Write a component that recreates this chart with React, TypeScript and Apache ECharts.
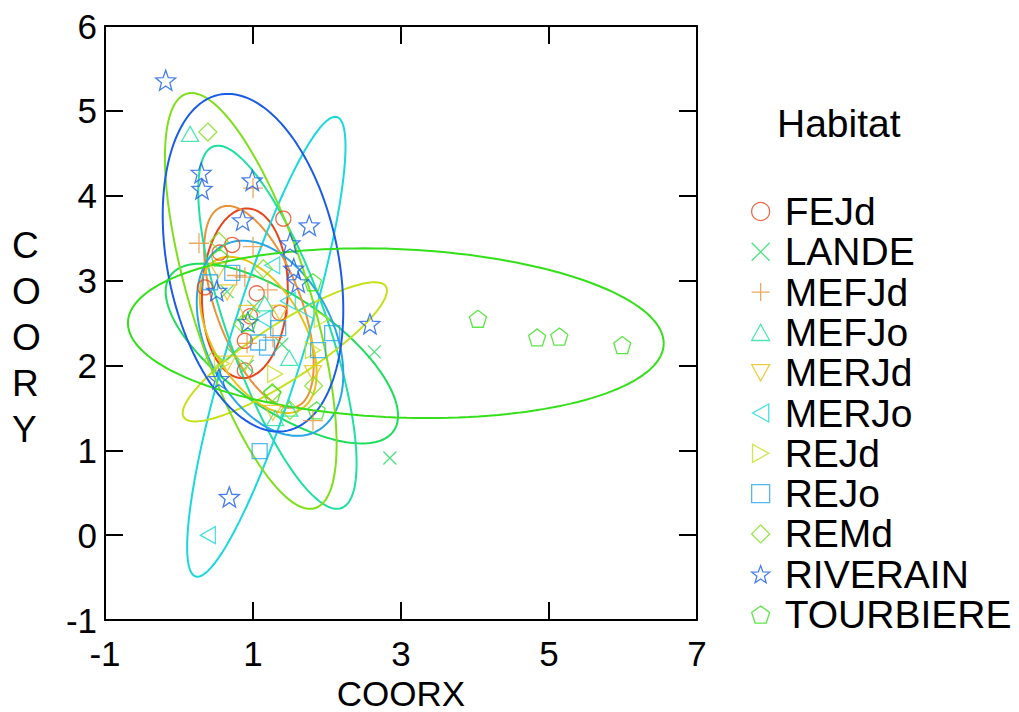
import React, { useEffect, useRef } from "react";
import * as echarts from "echarts";

const habitats = ["FEJd", "LANDE", "MEFJd", "MEFJo", "MERJd", "MERJo", "REJd", "REJo", "REMd", "RIVERAIN", "TOURBIERE"];
const colors = ["#E8431A", "#1EDC5C", "#E8923A", "#1EE0A0", "#E8C21A", "#1AD8DC", "#C6E01A", "#2AA6E8", "#7EE01A", "#1A5CE8", "#34E01A"];

const FEJd = [[1.41, 3.73], [0.72, 3.42], [0.55, 3.33], [0.35, 2.92], [1.05, 2.85], [1.36, 2.62], [0.96, 2.58], [0.89, 2.29], [0.89, 1.94]];
const LANDE = [[2.85, 0.91], [2.64, 2.16], [0.65, 2.87], [1.01, 2.69], [1.39, 2.25], [0.73, 2.14], [0.92, 1.99]];
const MEFJd = [[1.0, 4.09], [0.27, 3.44], [1.0, 3.4], [0.78, 3.06], [0.89, 3.04], [1.2, 2.89], [0.92, 2.26], [1.27, 2.33], [1.81, 1.35]];
const MEFJo = [[0.15, 4.73], [1.16, 2.73], [1.49, 2.09], [1.49, 1.49], [1.3, 1.38]];
const MERJd = [[0.53, 3.12], [0.65, 2.86], [0.92, 2.62], [1.36, 2.62], [0.89, 2.02], [1.81, 1.91], [1.27, 1.44], [0.65, 2.02]];
const MERJo = [[0.39, 0.0], [1.26, 3.18], [1.47, 2.76], [1.14, 2.55], [1.72, 2.65]];
const REJd = [[1.93, 2.55], [1.81, 2.18], [0.58, 2.02], [1.3, 1.9]];
const REJo = [[1.09, 0.99], [0.72, 3.09], [0.42, 2.98], [1.34, 2.44], [1.07, 2.27], [1.19, 2.21], [2.07, 2.38], [1.88, 2.18]];
const REMd = [[0.39, 4.75], [0.54, 3.46], [1.14, 3.14], [0.86, 2.49], [1.26, 1.68], [1.82, 1.76], [0.46, 2.06], [1.5, 1.47]];
const RIVERAIN = [[-0.18, 5.36], [0.3, 4.27], [0.31, 4.08], [0.99, 4.18], [0.86, 3.71], [1.76, 3.65], [1.5, 3.44], [1.55, 3.14], [1.61, 2.98], [0.51, 2.88], [0.93, 2.51], [2.58, 2.49], [0.54, 1.84], [0.68, 0.45]];
const TOURBIERE = [[4.04, 2.55], [4.84, 2.33], [5.14, 2.34], [5.99, 2.24], [0.55, 3.27], [1.81, 2.98], [0.93, 2.51], [1.26, 1.67], [1.86, 1.47]];
const groupPoints = [FEJd, LANDE, MEFJd, MEFJo, MERJd, MERJo, REJd, REJo, REMd, RIVERAIN, TOURBIERE];

// ellipse parameters: centre, half-extent in x and y, correlation
const ellipseCx = [0.89, 1.39, 1.08, 1.33, 1.07, 1.18, 1.43, 1.23, 0.97, 1.0, 2.93];
const ellipseCy = [2.85, 2.14, 2.69, 2.45, 2.36, 2.22, 2.16, 2.32, 2.76, 3.21, 2.38];
const ellipseSx = [0.58, 1.57, 0.74, 1.07, 0.79, 1.07, 1.38, 0.99, 1.16, 1.22, 3.62];
const ellipseSy = [1.0, 1.06, 1.19, 2.14, 0.92, 2.71, 0.82, 1.15, 2.45, 1.99, 1.0];
const ellipseR = [0.05, -0.69, -0.57, -0.75, -0.49, 0.87, 0.88, -0.37, -0.69, -0.28, -0.12];

function starPath(): string {
  const pts: string[] = [];
  for (let i = 0; i < 10; i++) {
    const rad = i % 2 === 0 ? 10 : 4.2;
    const a = -Math.PI / 2 + (i * Math.PI) / 5;
    pts.push(`${(10 + rad * Math.cos(a)).toFixed(2)},${(10 + rad * Math.sin(a)).toFixed(2)}`);
  }
  return "path://M" + pts.join("L") + "Z";
}
function pentagonPath(): string {
  const pts: string[] = [];
  for (let i = 0; i < 5; i++) {
    const a = -Math.PI / 2 + (i * 2 * Math.PI) / 5;
    pts.push(`${(10 + 10 * Math.cos(a)).toFixed(2)},${(10 + 10 * Math.sin(a)).toFixed(2)}`);
  }
  return "path://M" + pts.join("L") + "Z";
}

const symbols = [
  "circle",
  "path://M0,0L10,10M10,0L0,10",
  "path://M5,0L5,10M0,5L10,5",
  "path://M5,0L10,9L0,9Z",
  "path://M0,0L10,0L5,9Z",
  "path://M9,0L9,10L0,5Z",
  "path://M0,0L9,5L0,10Z",
  "rect",
  "diamond",
  starPath(),
  pentagonPath(),
];
const sizes: any[] = [15, 13, 20, [17, 15], [17, 15], [15, 17], [15, 17], 15, 18, 20, 17];

function ellipsePoints(i: number): number[][] {
  const out: number[][] = [];
  const n = 160;
  const r = ellipseR[i];
  const q = Math.sqrt(1 - r * r);
  for (let k = 0; k <= n; k++) {
    const t = (k / n) * 2 * Math.PI;
    out.push([
      ellipseCx[i] + ellipseSx[i] * Math.cos(t),
      ellipseCy[i] + ellipseSy[i] * (r * Math.cos(t) + q * Math.sin(t)),
    ]);
  }
  return out;
}

const FONT = "Liberation Sans, Arial, sans-serif";

export default function App() {
  const ref = useRef<HTMLDivElement>(null);
  useEffect(() => {
    if (!ref.current) return;
    const chart = echarts.init(ref.current, undefined, { renderer: "svg" });
    const axisLine = { show: true, onZero: false, lineStyle: { color: "#000", width: 2 } };
    const axisTick = { show: true, inside: true, length: 18, lineStyle: { color: "#000", width: 2 } };
    const series: any[] = [];
    habitats.forEach((h, i) => {
      series.push({
        name: h + " ellipse",
        type: "line",
        data: ellipsePoints(i),
        showSymbol: false,
        silent: true,
        lineStyle: { color: colors[i], width: 2 },
        z: 2,
      });
    });
    habitats.forEach((h, i) => {
      series.push({
        name: h,
        type: "scatter",
        data: groupPoints[i],
        symbol: symbols[i],
        symbolSize: sizes[i],
        itemStyle: { color: "transparent", borderColor: colors[i], borderWidth: 1.3 },
        z: 3,
      });
    });
    chart.setOption({
      animation: false,
      backgroundColor: "#fff",
      textStyle: { fontFamily: FONT },
      title: {
        text: "Habitat",
        left: 772,
        top: 99,
        textStyle: { fontSize: 39, fontWeight: "normal", color: "#000", fontFamily: FONT },
      },
      legend: {
        orient: "vertical",
        left: 746,
        top: 187,
        itemWidth: 18,
        itemHeight: 18,
        itemGap: 1.3,
        selectedMode: false,
        textStyle: { fontSize: 39, color: "#000", fontFamily: FONT, padding: [0, 0, 0, 10] },
        data: habitats.map((h, i) => ({
          name: h,
          icon: symbols[i],
          itemStyle: { color: "transparent", borderColor: colors[i], borderWidth: 1.3 },
        })),
      },
      grid: { left: 105, top: 26, width: 592, height: 594, outerBoundsMode: "none", containLabel: false },
      xAxis: [
        {
          type: "value",
          min: -1,
          max: 7,
          interval: 2,
          position: "bottom",
          axisLine,
          axisTick,
          splitLine: { show: false },
          axisLabel: { fontSize: 35, color: "#000", margin: 16, fontFamily: FONT },
          name: "COORX",
          nameLocation: "middle",
          nameGap: 47,
          nameTextStyle: { fontSize: 35, color: "#000", fontFamily: FONT },
        },
        {
          type: "value",
          min: -1,
          max: 7,
          interval: 2,
          position: "top",
          axisLine,
          axisTick,
          splitLine: { show: false },
          axisLabel: { show: false },
        },
      ],
      yAxis: [
        {
          type: "value",
          min: -1,
          max: 6,
          interval: 1,
          position: "left",
          axisLine,
          axisTick,
          splitLine: { show: false },
          axisLabel: { fontSize: 35, color: "#000", margin: 8, fontFamily: FONT },
        },
        {
          type: "value",
          min: -1,
          max: 6,
          interval: 1,
          position: "right",
          axisLine,
          axisTick,
          splitLine: { show: false },
          axisLabel: { show: false },
        },
      ],
      graphic: [
        {
          type: "text",
          left: 12,
          top: 222,
          style: {
            text: "C\nO\nO\nR\nY",
            fontSize: 37,
            lineHeight: 46,
            fill: "#000",
            fontFamily: FONT,
            align: "center",
          },
        },
      ],
      series,
    });
    return () => chart.dispose();
  }, []);
  return <div ref={ref} style={{ position: "fixed", left: 0, top: 0, width: 1019, height: 712 }} />;
}
